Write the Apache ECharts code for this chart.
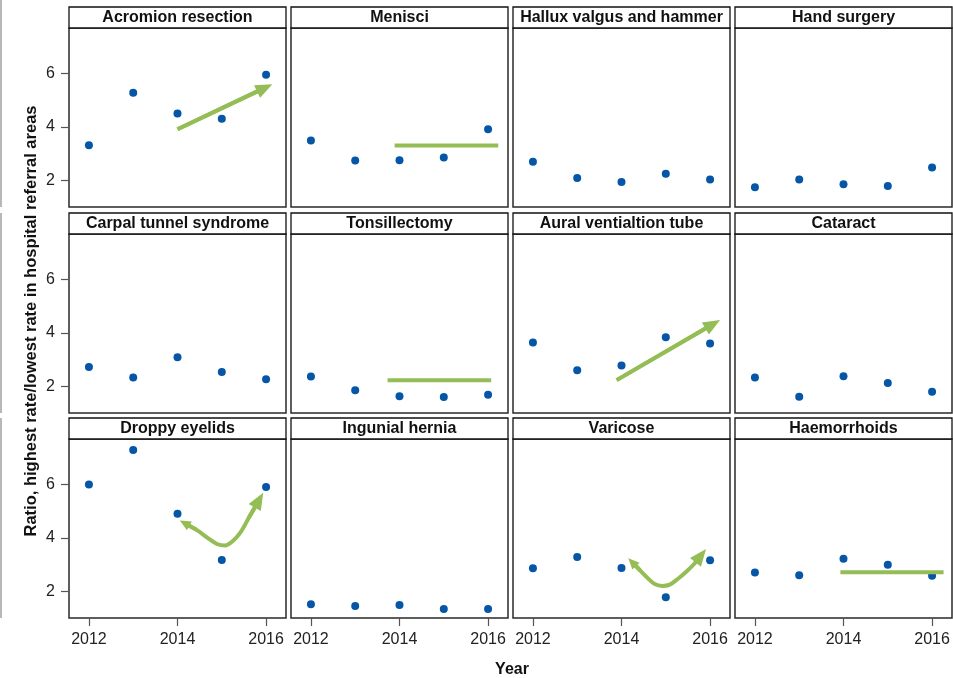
<!DOCTYPE html>
<html style="height: 100%">
<head>
  <meta charset="utf-8">
  <title>Ratio per procedure</title>
  <script src="https://cdn.jsdelivr.net/npm/echarts@6/dist/echarts.min.js"></script>
</head>
<body style="height: 100%; width: 100%; margin: 0; background: #fff">
<div id="chart" style="width: 953px; height: 678px"></div>
<script type="text/javascript">
// data
var years = [2012, 2013, 2014, 2015, 2016];
var procedures = [
  'Acromion resection', 'Menisci', 'Hallux valgus and hammer', 'Hand surgery',
  'Carpal tunnel syndrome', 'Tonsillectomy', 'Aural ventialtion tube', 'Cataract',
  'Droppy eyelids', 'Ingunial hernia', 'Varicose', 'Haemorrhoids'
];
var ratios = [
  [3.31, 5.28, 4.50, 4.30, 5.95],
  [3.49, 2.74, 2.75, 2.85, 3.91],
  [2.69, 2.09, 1.94, 2.24, 2.03],
  [1.74, 2.03, 1.85, 1.79, 2.48],
  [2.72, 2.33, 3.09, 2.53, 2.26],
  [2.37, 1.85, 1.63, 1.60, 1.68],
  [3.64, 2.60, 2.78, 3.84, 3.60],
  [2.33, 1.61, 2.38, 2.12, 1.80],
  [6.00, 7.29, 4.90, 3.17, 5.90],
  [1.51, 1.45, 1.49, 1.34, 1.34],
  [2.86, 3.28, 2.87, 1.78, 3.16],
  [2.70, 2.60, 3.22, 2.99, 2.58]
];
var xTicks = [2012, 2014, 2016];
var yTicks = [2, 4, 6];

// green trend marks drawn over some panels (year, ratio)
var droppyCurve = [[2014.16, 4.55], [2014.43, 4.30], [2014.68, 4.00], [2014.89, 3.77], [2015.07, 3.71],
  [2015.25, 3.88], [2015.43, 4.22], [2015.61, 4.75], [2015.84, 5.41]];
var varicoseCurve = [[2014.24, 3.09], [2014.42, 2.78], [2014.60, 2.48], [2014.75, 2.27], [2014.92, 2.20],
  [2015.09, 2.25], [2015.27, 2.46], [2015.48, 2.76], [2015.66, 3.06], [2015.79, 3.33]];
var trends = [
  {panel: 0, path: [[2014.0, 3.91], [2015.97, 5.46]], smooth: false, endHead: true, startHead: false},
  {panel: 1, path: [[2013.89, 3.30], [2016.23, 3.30]], smooth: false, endHead: false, startHead: false},
  {panel: 5, path: [[2013.73, 2.23], [2016.07, 2.23]], smooth: false, endHead: false, startHead: false},
  {panel: 6, path: [[2013.89, 2.23], [2016.06, 4.32]], smooth: false, endHead: true, startHead: false},
  {panel: 8, path: droppyCurve, smooth: true, endHead: true, startHead: true},
  {panel: 10, path: varicoseCurve, smooth: true, endHead: true, startHead: true},
  {panel: 11, path: [[2013.93, 2.71], [2016.26, 2.71]], smooth: false, endHead: false, startHead: false}
];

var FONT = '"Liberation Sans", Arial, sans-serif';
var DOT = '#0556a6';
var GREEN = '#95bd55';
var colLeft = [69, 291, 513, 735];
var rowTop = [28, 234, 439];
var plotW = 217, plotH = 179, stripH = 21;

var grids = [], xAxes = [], yAxes = [], series = [], graphics = [];

procedures.forEach(function (name, i) {
  var r = Math.floor(i / 4), c = i % 4;
  grids.push({left: colLeft[c], top: rowTop[r], width: plotW, height: plotH, outerBoundsMode: 'none',
    show: true, borderColor: '#2a2a2a', borderWidth: 1.5, backgroundColor: 'transparent'});
  var bottomRow = r === 2, firstCol = c === 0;
  xAxes.push({
    type: 'value', gridIndex: i, min: 2011.55, max: 2016.45,
    axisLine: {show: false}, splitLine: {show: false},
    axisTick: {show: bottomRow, customValues: xTicks, length: 8, lineStyle: {color: '#555', width: 1.2}},
    axisLabel: {show: bottomRow, customValues: xTicks, fontSize: 16, fontFamily: FONT, color: '#222', margin: 14,
      formatter: function (v) { return String(v); }}
  });
  yAxes.push({
    type: 'value', gridIndex: i, min: 1, max: 7.7,
    axisLine: {show: false}, splitLine: {show: false},
    axisTick: {show: firstCol, customValues: yTicks, length: 8, lineStyle: {color: '#555', width: 1.2}},
    axisLabel: {show: firstCol, customValues: yTicks, fontSize: 16, fontFamily: FONT, color: '#222', margin: 14}
  });
  series.push({
    type: 'scatter', xAxisIndex: i, yAxisIndex: i, symbolSize: 8, z: 3,
    itemStyle: {color: DOT, opacity: 1},
    data: years.map(function (y, k) { return [y, ratios[i][k]]; })
  });
  // title strip
  graphics.push({type: 'rect', shape: {x: colLeft[c], y: rowTop[r] - stripH, width: plotW, height: stripH},
    style: {fill: '#fff', stroke: '#111', lineWidth: 1.3}, silent: true});
  graphics.push({type: 'text', x: colLeft[c] + plotW / 2, y: rowTop[r] - stripH / 2 + 0.5,
    style: {text: name, font: 'bold 16px ' + FONT, fill: '#111', align: 'center', verticalAlign: 'middle',
      textAlign: 'center', textVerticalAlign: 'middle'}, silent: true});
});

trends.forEach(function (t) {
  var p = t.path, n = p.length, heads = [];
  if (t.endHead) heads.push({seg: [p[n - 2], p[n - 1]], size: [14, 17]});
  if (t.startHead) heads.push({seg: [p[1], p[0]], size: [10, 11]});
  series.push({
    type: 'line', xAxisIndex: t.panel, yAxisIndex: t.panel, z: 4, silent: true,
    smooth: t.smooth ? 0.3 : false, symbol: 'none',
    lineStyle: {color: GREEN, width: 4, join: 'round'},
    data: p,
    markLine: {
      silent: true, animation: false, label: {show: false},
      symbol: ['none', 'triangle'],
      lineStyle: {color: GREEN, width: 4, type: 'solid'},
      data: heads.map(function (h) {
        return [{coord: h.seg[0], symbolSize: h.size}, {coord: h.seg[1], symbolSize: h.size}];
      })
    }
  });
});

// axis titles and the left edge rules
graphics.push({type: 'text', x: 31, y: 321, rotation: Math.PI / 2,
  style: {text: 'Ratio, highest rate/lowest rate in hospital referral areas', font: 'bold 16.5px ' + FONT,
    fill: '#111', align: 'center', verticalAlign: 'middle', textAlign: 'center', textVerticalAlign: 'middle'}, silent: true});
graphics.push({type: 'text', x: 512, y: 670,
  style: {text: 'Year', font: 'bold 16px ' + FONT, fill: '#111', align: 'center', verticalAlign: 'middle',
    textAlign: 'center', textVerticalAlign: 'middle'}, silent: true});
[[0, 207], [213, 413], [418, 618]].forEach(function (s) {
  graphics.push({type: 'line', shape: {x1: 1, y1: s[0], x2: 1, y2: s[1]}, style: {stroke: '#888', lineWidth: 1.2}, silent: true});
});

var myChart = echarts.init(document.getElementById('chart'));
myChart.setOption({
  animation: false,
  grid: grids,
  xAxis: xAxes,
  yAxis: yAxes,
  series: series,
  graphic: graphics
});
</script>
</body>
</html>
